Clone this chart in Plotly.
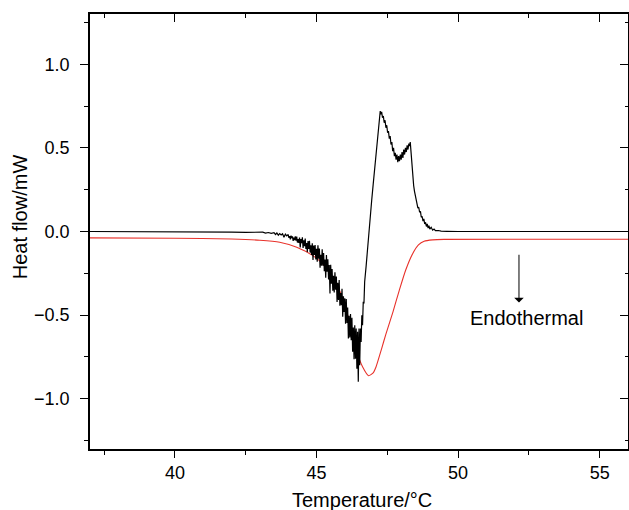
import plotly.graph_objects as go

# ---- data ----
black_temp = [
    37.0, 38.0, 39.0, 40.0, 41.0, 41.5, 42.0, 42.5, 43.0,
    43.1, 43.2, 43.3, 43.4, 43.5, 43.55, 43.6, 43.65, 43.7, 43.75,
    43.8, 43.85, 43.9, 43.95,
    44.000, 44.025, 44.050, 44.075, 44.100, 44.125, 44.150, 44.175, 44.200, 44.225,
    44.250, 44.275, 44.300, 44.325, 44.350, 44.375, 44.400, 44.425, 44.450, 44.475,
    44.500, 44.525, 44.550, 44.575, 44.600, 44.625, 44.650, 44.675, 44.700, 44.725,
    44.750, 44.775, 44.800, 44.825, 44.850, 44.875, 44.900, 44.925, 44.950, 44.975,
    45.000, 45.025, 45.050, 45.075, 45.100, 45.125, 45.150, 45.175, 45.200, 45.225,
    45.250, 45.275, 45.300, 45.325, 45.350, 45.375, 45.400, 45.425, 45.450, 45.475,
    45.500, 45.525, 45.550, 45.575, 45.600, 45.625, 45.650, 45.675, 45.700, 45.725,
    45.750, 45.775, 45.800, 45.825, 45.850, 45.875, 45.900, 45.925, 45.950, 45.975,
    46.000, 46.025, 46.050, 46.075, 46.100, 46.125, 46.150, 46.175, 46.200, 46.225,
    46.250, 46.275, 46.300, 46.325, 46.350, 46.375, 46.400, 46.425, 46.450, 46.475,
    46.500, 46.525, 46.550, 46.575, 46.600, 46.625, 46.650, 46.675, 46.700, 46.750,
    46.800, 46.850, 46.900, 46.950, 47.000, 47.050, 47.100, 47.150, 47.200, 47.230,
    47.250,
    47.27, 47.30, 47.33, 47.36, 47.39, 47.42, 47.45, 47.48, 47.51, 47.54,
    47.57, 47.60, 47.63, 47.66, 47.69, 47.72, 47.75, 47.78, 47.81, 47.84,
    47.87, 47.90, 47.93, 47.96, 47.99, 48.02, 48.05, 48.08, 48.11, 48.14,
    48.17, 48.20, 48.23, 48.26, 48.29, 48.31,
    48.34, 48.37, 48.40, 48.43, 48.46, 48.49, 48.52, 48.55, 48.58, 48.61,
    48.64, 48.67, 48.70, 48.73, 48.76, 48.79, 48.82, 48.85, 48.88, 48.91,
    48.94, 48.97, 49.00, 49.05, 49.10, 49.15, 49.20, 49.30, 49.40, 49.60,
    50.0, 52.0, 54.0, 56.0,
]
black_heat = [
    0.000, 0.000, -0.001, -0.001, -0.002, -0.003, -0.004, -0.005, -0.006,
    -0.004, -0.009, -0.006, -0.011, -0.007, -0.018, -0.009, -0.022, -0.012, -0.020,
    -0.013, -0.034, -0.016, -0.026,
    -0.018, -0.038, -0.028, -0.047, -0.025, -0.040, -0.029, -0.056, -0.037, -0.052,
    -0.029, -0.054, -0.031, -0.066, -0.046, -0.068, -0.036, -0.095, -0.045, -0.069,
    -0.035, -0.099, -0.053, -0.088, -0.042, -0.104, -0.069, -0.123, -0.057, -0.105,
    -0.056, -0.126, -0.083, -0.140, -0.070, -0.170, -0.084, -0.140, -0.081, -0.167,
    -0.104, -0.181, -0.083, -0.163, -0.102, -0.216, -0.139, -0.205, -0.106, -0.204,
    -0.129, -0.238, -0.168, -0.276, -0.141, -0.240, -0.166, -0.287, -0.200, -0.370,
    -0.199, -0.312, -0.224, -0.354, -0.264, -0.365, -0.244, -0.348, -0.269, -0.421,
    -0.307, -0.410, -0.290, -0.444, -0.368, -0.440, -0.342, -0.510, -0.387, -0.481,
    -0.399, -0.551, -0.403, -0.547, -0.454, -0.640, -0.504, -0.633, -0.493, -0.650,
    -0.515, -0.719, -0.574, -0.764, -0.561, -0.760, -0.580, -0.820, -0.600, -0.898,
    -0.580, -0.800, -0.580, -0.660, -0.500, -0.560, -0.420, -0.430, -0.300, -0.210,
    -0.100, 0.000, 0.090, 0.190, 0.280, 0.370, 0.460, 0.550, 0.640, 0.690,
    0.720,
    0.700, 0.715, 0.680, 0.690, 0.650, 0.665, 0.620, 0.635, 0.590, 0.600,
    0.555, 0.570, 0.520, 0.535, 0.480, 0.500, 0.450, 0.470, 0.430, 0.460,
    0.415, 0.450, 0.420, 0.460, 0.430, 0.475, 0.440, 0.490, 0.460, 0.500,
    0.475, 0.515, 0.490, 0.525, 0.510, 0.535,
    0.470, 0.380, 0.310, 0.275, 0.240, 0.215, 0.180, 0.175, 0.140, 0.145,
    0.115, 0.120, 0.085, 0.090, 0.062, 0.075, 0.045, 0.055, 0.030, 0.045,
    0.020, 0.035, 0.015, 0.025, 0.008, 0.015, 0.005, 0.006, 0.002, 0.001,
    0.000, 0.000, 0.000, 0.000,
]

red_temp = [37.0, 40.0, 42.0, 43.0, 43.7, 44.3, 44.87, 45.2, 45.46, 45.81,
            46.1, 46.3, 46.45, 46.63, 46.84, 47.0, 47.1, 47.3, 47.45, 47.7,
            47.92, 48.15, 48.39, 48.6, 48.8, 49.1, 49.5, 56.0]
red_heat = [-0.038, -0.040, -0.045, -0.052, -0.064, -0.094, -0.144, -0.190, -0.244, -0.353,
            -0.500, -0.620, -0.730, -0.810, -0.862, -0.845, -0.810, -0.700, -0.613, -0.480,
            -0.353, -0.230, -0.134, -0.080, -0.058, -0.050, -0.047, -0.046]

x_ticks = [40, 45, 50, 55]
y_ticks = [-1.0, -0.5, 0.0, 0.5, 1.0]
y_tick_text = ["\u22121.0", "\u22120.5", "0.0", "0.5", "1.0"]
x_range = [37, 56]
y_range = [-1.3, 1.3]

FONT = "Liberation Sans, Arial, Helvetica, sans-serif"

fig = go.Figure()
fig.add_trace(go.Scatter(x=red_temp, y=red_heat, mode="lines",
                         line=dict(color="#e8312a", width=1.1, shape="spline", smoothing=0.6),
                         showlegend=False, hoverinfo="skip"))
fig.add_trace(go.Scatter(x=black_temp, y=black_heat, mode="lines",
                         line=dict(color="black", width=1.2),
                         showlegend=False, hoverinfo="skip"))

axis_common = dict(showgrid=False, zeroline=False, showline=True, linecolor="black",
                   linewidth=1.5, tickcolor="black", tickwidth=1.3, automargin=False)

fig.update_layout(
    width=629, height=510,
    margin=dict(l=90, r=1, t=14, b=61),
    plot_bgcolor="white", paper_bgcolor="white",
    font=dict(family=FONT, size=18, color="black"),
    xaxis=dict(range=x_range, tickvals=x_ticks, ticks="outside", ticklen=7,
               minor=dict(ticks="outside", ticklen=4, tick0=37.5, dtick=5, tickcolor="black", tickwidth=1.3),
               **axis_common),
    yaxis=dict(range=y_range, tickvals=y_ticks, ticktext=y_tick_text, ticks="outside", ticklen=8,
               ticklabelstandoff=7,
               minor=dict(ticks="outside", ticklen=4, tick0=-1.25, dtick=0.5, tickcolor="black", tickwidth=1.3),
               **axis_common),
    xaxis2=dict(range=x_range, overlaying="x", side="top", tickvals=x_ticks, ticks="inside", ticklen=8,
                showticklabels=False,
                minor=dict(ticks="inside", ticklen=4, tick0=37.5, dtick=5, tickcolor="black", tickwidth=1.3),
                **axis_common),
    yaxis2=dict(range=y_range, overlaying="y", side="right", tickvals=y_ticks, ticks="inside", ticklen=8,
                showticklabels=False,
                minor=dict(ticks="inside", ticklen=3, tick0=-1.25, dtick=0.5, tickcolor="black", tickwidth=1.3),
                **axis_common),
    annotations=[
        dict(x=-0.130, y=0.533, xref="paper", yref="paper", text="Heat flow/mW", textangle=-90,
             showarrow=False, xanchor="center", yanchor="middle", font=dict(size=20)),
        dict(x=0.5065, y=-0.117, xref="paper", yref="paper", text="Temperature/\u00b0C",
             showarrow=False, xanchor="center", yanchor="middle", font=dict(size=20)),
        dict(x=52.15, y=-0.425, ax=52.15, ay=-0.13, xref="x", yref="y", axref="x", ayref="y",
             showarrow=True, arrowhead=1, arrowsize=1.6, arrowwidth=1, arrowcolor="black", text=""),
        dict(x=52.43, y=-0.515, xref="x", yref="y", text="Endothermal", showarrow=False,
             font=dict(size=20, color="black")),
    ],
)
# invisible trace to activate the mirrored axes
fig.add_trace(go.Scatter(x=[x_range[0]], y=[y_range[0]], xaxis="x2", yaxis="y2", mode="markers",
                         marker=dict(opacity=0), showlegend=False, hoverinfo="skip"))

fig.write_html("out.html", config={"displayModeBar": False},
               post_script="document.body.style.margin='0';document.body.style.overflow='hidden';")
